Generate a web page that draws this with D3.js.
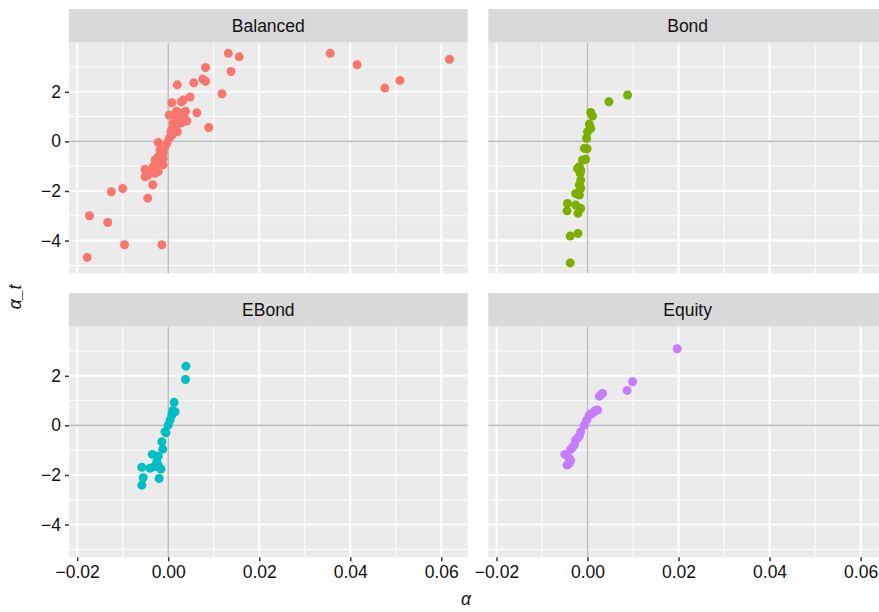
<!DOCTYPE html>
<html>
<head>
<meta charset="utf-8">
<script src="https://cdn.jsdelivr.net/npm/d3@7"></script>
<style>
  body { margin: 0; background: #fff; }
  svg { display: block; }
  text { font-family: "Liberation Sans", Arial, Helvetica, sans-serif; }
</style>
</head>
<body>
<svg id="chart" width="879" height="612"></svg>
<script>
// ---- data (alpha, alpha_t) ----
const facets = ["Balanced", "Bond", "EBond", "Equity"];
const colors = ["#F8766D", "#7CAE00", "#00BFC4", "#C77CFF"];
const xTicks = [-0.02, 0.00, 0.02, 0.04, 0.06];
const yTicks = [-4, -2, 0, 2];

const balanced = [
  [0.0132,3.55],[0.0156,3.41],[0.0138,2.82],[0.0082,2.98],[0.0076,2.51],[0.0082,2.42],
  [0.0056,2.36],[0.0020,2.28],[0.0118,1.92],[0.0048,1.79],[0.0033,1.67],[0.0029,1.60],
  [0.0008,1.56],[0.0063,1.15],[0.0038,1.22],[0.0023,1.15],[0.0002,1.06],[0.0041,0.82],
  [0.0089,0.56],[0.0020,0.39],[0.0015,0.86],[0.0019,0.66],[0.0010,0.52],[0.0008,0.25],
  [0.0002,0.12],[0.0026,0.99],[0.0030,0.75],[0.0013,1.03],[0.0018,1.22],[0.0031,1.12],
  [0.0011,0.72],[0.0024,0.88],[0.0006,0.40],[0.0016,0.46],[0.0028,1.05],[0.0035,0.95],
  [-0.0022,-0.04],[-0.0003,-0.08],[-0.0018,-0.35],[-0.0011,-0.48],[-0.0022,-0.62],
  [-0.0011,-0.69],[-0.0029,-0.75],[-0.0018,-0.89],[-0.0011,-0.95],[-0.0033,-1.02],
  [-0.0026,-1.09],[-0.0051,-1.13],[-0.0040,-1.22],[-0.0022,-1.22],[-0.0051,-1.43],
  [-0.0029,-1.29],[-0.0044,-1.36],[-0.0015,-0.55],[-0.0008,-0.25],[-0.0025,-0.85],
  [-0.0034,-1.75],[-0.0045,-2.29],[-0.0100,-1.90],[-0.0125,-2.03],[-0.0173,-3.00],
  [-0.0133,-3.27],[-0.0096,-4.17],[-0.0014,-4.17],[-0.0178,-4.68],
  [0.0356,3.55],[0.0415,3.09],[0.0476,2.15],[0.0509,2.46],[0.0618,3.31]
];
const bond = [
  [0.0088,1.87],[0.0047,1.60],[0.0007,1.17],[0.0011,1.02],[0.0004,0.69],[0.0007,0.52],
  [0.0000,0.39],[-0.0002,0.12],[-0.0007,-0.28],[-0.0001,-0.30],[-0.0011,-0.75],
  [-0.0004,-0.72],[-0.0018,-1.02],[-0.0015,-1.16],[-0.0022,-1.10],[-0.0016,-1.29],
  [-0.0015,-1.56],[-0.0018,-1.76],[-0.0015,-1.90],[-0.0026,-2.10],[-0.0018,-2.16],
  [-0.0044,-2.50],[-0.0045,-2.80],[-0.0026,-2.57],[-0.0015,-2.70],[-0.0021,-2.90],
  [-0.0021,-3.71],[-0.0038,-3.82],[-0.0038,-4.90]
];
const ebond = [
  [0.0039,2.39],[0.0038,1.85],[0.0013,0.93],[0.0015,0.55],[0.0008,0.42],[0.0004,0.21],
  [0.0000,0.01],[-0.0007,-0.26],[-0.0014,-0.66],[-0.0012,-0.96],[-0.0035,-1.17],
  [-0.0022,-1.24],[-0.0025,-1.47],[-0.0058,-1.69],[-0.0040,-1.73],[-0.0016,-1.76],
  [-0.0030,-1.66],[-0.0022,-1.60],[-0.0055,-2.11],[-0.0020,-2.14],[-0.0058,-2.41],
  [0.0010,0.60],[-0.0005,-0.30]
];
const equity = [
  [0.0197,3.09],[0.0099,1.76],[0.0087,1.41],[0.0033,1.29],[0.0026,1.18],[0.0022,0.62],
  [0.0015,0.55],[0.0004,0.42],[-0.0002,0.21],[-0.0007,0.01],[-0.0015,-0.26],
  [-0.0018,-0.43],[-0.0026,-0.59],[-0.0029,-0.79],[-0.0037,-0.97],[-0.0050,-1.17],
  [-0.0040,-1.33],[-0.0037,-1.42],[-0.0045,-1.60],[-0.0040,-1.53],[-0.0033,-0.88],
  [-0.0021,-0.50],[0.0018,0.60],[0.0030,1.24],[0.0010,0.48]
];
const seriesData = [balanced, bond, ebond, equity];

// ---- layout ----
const svg = d3.select("#chart");
const panelW = 398.7, panelH = 230.6, stripH = 33.7;
const colX = [69, 488.3];
const rowY = [42.7, 326.7];
const fs = 17.5;

const x = d3.scaleLinear().domain([-0.0218, 0.0658]).range([0, panelW]);
const y = d3.scaleLinear().domain([-5.32, 3.98]).range([panelH, 0]);

const xMinor = d3.range(-0.02, 0.0701, 0.01).map(v => +v.toFixed(3));
const yMinor = [-5, -3, -1, 1, 3];

facets.forEach((name, i) => {
  const col = i % 2, row = Math.floor(i / 2);
  const g = svg.append("g").attr("transform", `translate(${colX[col]},${rowY[row]})`);

  // strip
  g.append("rect").attr("x", 0).attr("y", -stripH).attr("width", panelW).attr("height", stripH)
    .attr("fill", "#D9D9D9");
  g.append("text").attr("x", panelW / 2).attr("y", -stripH / 2).attr("dy", "0.36em")
    .attr("text-anchor", "middle").attr("font-size", fs).attr("fill", "#111").text(name);

  // panel
  g.append("rect").attr("width", panelW).attr("height", panelH).attr("fill", "#EBEBEB");

  // minor grid
  g.selectAll(".xm").data(xMinor.filter(v => xTicks.indexOf(v) < 0 && x(v) >= 0 && x(v) <= panelW)).enter()
    .append("line").attr("x1", d => x(d)).attr("x2", d => x(d)).attr("y1", 0).attr("y2", panelH)
    .attr("stroke", "#fff").attr("stroke-width", 1);
  g.selectAll(".ym").data(yMinor).enter()
    .append("line").attr("y1", d => y(d)).attr("y2", d => y(d)).attr("x1", 0).attr("x2", panelW)
    .attr("stroke", "#fff").attr("stroke-width", 1);
  // major grid
  g.selectAll(".xM").data(xTicks).enter()
    .append("line").attr("x1", d => x(d)).attr("x2", d => x(d)).attr("y1", 0).attr("y2", panelH)
    .attr("stroke", "#fff").attr("stroke-width", 2);
  g.selectAll(".yM").data(yTicks).enter()
    .append("line").attr("y1", d => y(d)).attr("y2", d => y(d)).attr("x1", 0).attr("x2", panelW)
    .attr("stroke", "#fff").attr("stroke-width", 2);

  // reference lines at zero
  g.append("line").attr("x1", 0).attr("x2", panelW).attr("y1", y(0)).attr("y2", y(0))
    .attr("stroke", "#BEBEBE").attr("stroke-width", 1.6);
  g.append("line").attr("x1", x(0)).attr("x2", x(0)).attr("y1", 0).attr("y2", panelH)
    .attr("stroke", "#BEBEBE").attr("stroke-width", 1.6);

  // points
  g.selectAll(".pt").data(seriesData[i]).enter()
    .append("circle").attr("cx", d => x(d[0])).attr("cy", d => y(d[1])).attr("r", 4.5)
    .attr("fill", colors[i]);

  // axes
  if (row === 1) {
    const ax = g.append("g").attr("transform", `translate(0,${panelH})`)
      .call(d3.axisBottom(x).tickValues(xTicks).tickFormat(d3.format(".2f")).tickSize(4).tickPadding(4));
    ax.select(".domain").remove();
    ax.selectAll("line").attr("stroke", "#333").attr("stroke-width", 1.5);
    ax.selectAll("text").attr("font-size", fs).attr("fill", "#111")
      .attr("font-family", "Liberation Sans, Arial, sans-serif");
  }
  if (col === 0) {
    const ay = g.append("g")
      .call(d3.axisLeft(y).tickValues(yTicks).tickFormat(d3.format("d")).tickSize(4).tickPadding(4));
    ay.select(".domain").remove();
    ay.selectAll("line").attr("stroke", "#333").attr("stroke-width", 1.5);
    ay.selectAll("text").attr("font-size", fs).attr("fill", "#111")
      .attr("font-family", "Liberation Sans, Arial, sans-serif");
  }
});

// axis titles
svg.append("text").attr("x", 466).attr("y", 605).attr("text-anchor", "middle")
  .attr("font-size", fs).attr("font-style", "italic").attr("fill", "#111").text("α");
svg.append("text").attr("transform", "translate(21,297) rotate(-90)").attr("text-anchor", "middle")
  .attr("font-size", fs).attr("font-style", "italic").attr("fill", "#111").text("α_t");
</script>
</body>
</html>
